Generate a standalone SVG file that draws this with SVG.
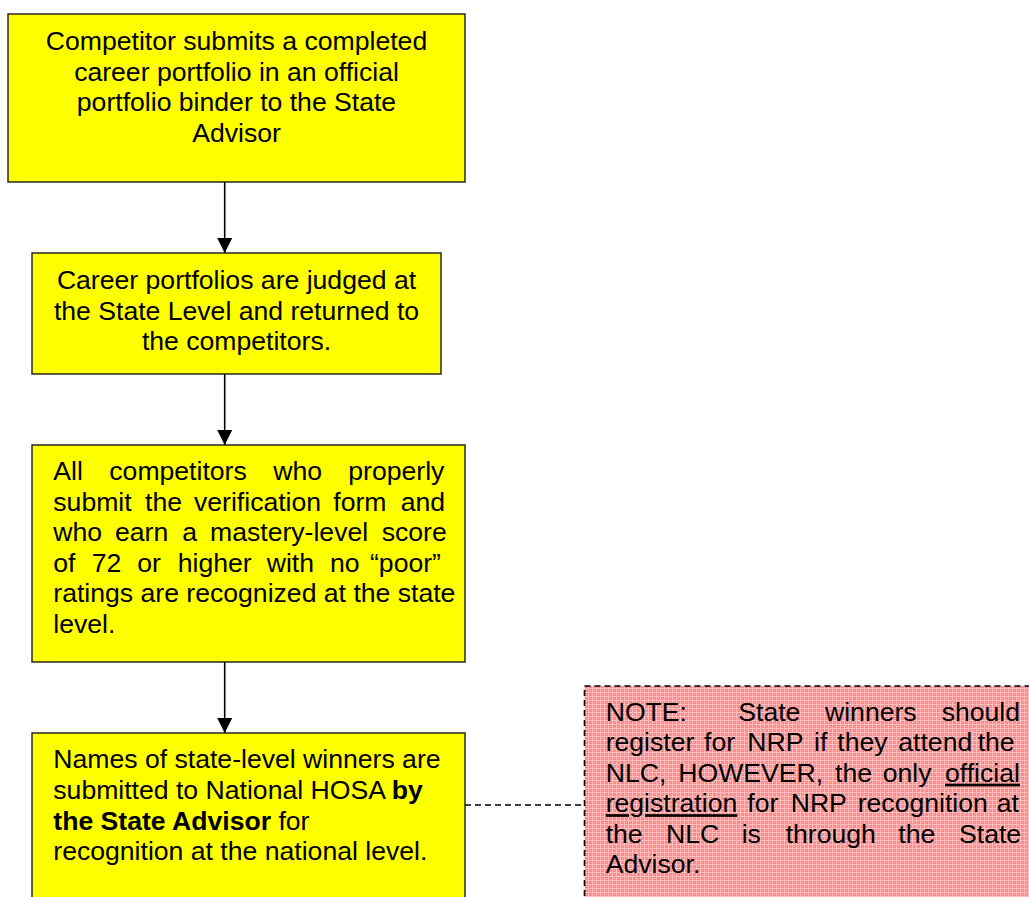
<svg xmlns="http://www.w3.org/2000/svg" width="1029" height="897" viewBox="0 0 1029 897">
<style>
.box{fill:#FFFF00;stroke:#1a1a1a;stroke-width:1.4}
.t{font-family:"Liberation Sans",Arial,sans-serif;font-size:26.6px;fill:#000}
.c{text-anchor:middle}
.b{font-weight:bold}
.conn{stroke:#000;stroke-width:1.6;fill:none}
.dash{stroke:#000;stroke-width:1.6;fill:none;stroke-dasharray:6 4}
</style>
<defs>
<marker id="arr" markerUnits="userSpaceOnUse" markerWidth="16" markerHeight="15" refX="15" refY="7.5" orient="auto">
<path d="M0,0 L15,7.5 L0,15 Z" fill="#000"/>
</marker>
<pattern id="pink" width="4" height="4" patternUnits="userSpaceOnUse">
<rect width="4" height="4" fill="#ff8686"/>
<rect x="0" y="0" width="4" height="1" fill="#ffbcbc"/>
<rect x="0" y="0" width="1" height="4" fill="#ffbcbc"/>
<rect x="2" y="2" width="1" height="1" fill="#ffa8a8"/>
</pattern>
</defs>
<g id="connectors">
<line class="conn" x1="224.7" y1="182" x2="224.7" y2="253" marker-end="url(#arr)"/>
<line class="conn" x1="224.7" y1="374" x2="224.7" y2="445" marker-end="url(#arr)"/>
<line class="conn" x1="224.7" y1="662" x2="224.7" y2="733" marker-end="url(#arr)"/>
<line class="dash" x1="465" y1="805" x2="584" y2="805"/>
</g>
<g id="node1">
<rect class="box" x="8" y="14" width="457" height="168"/>
<text class="t c" x="236.5" y="50">Competitor submits a completed</text>
<text class="t c" x="236.5" y="80.5">career portfolio in an official</text>
<text class="t c" x="236.5" y="111">portfolio binder to the State</text>
<text class="t c" x="236.5" y="141.5">Advisor</text>
</g>
<g id="node2">
<rect class="box" x="32" y="253" width="409" height="121"/>
<text class="t c" x="236.5" y="289">Career portfolios are judged at</text>
<text class="t c" x="236.5" y="319.5">the State Level and returned to</text>
<text class="t c" x="236.5" y="350">the competitors.</text>
</g>
<g id="node3">
<rect class="box" x="32" y="445" width="433" height="217"/>
<text class="t" y="480"><tspan x="53.3">All</tspan><tspan x="109.3">competitors</tspan><tspan x="273.3">who</tspan><tspan x="348.3">properly</tspan></text>
<text class="t" y="510.6"><tspan x="53.3">submit</tspan><tspan x="145">the</tspan><tspan x="194">verification</tspan><tspan x="333.3">form</tspan><tspan x="400.7">and</tspan></text>
<text class="t" y="541.2"><tspan x="53.3">who</tspan><tspan x="115">earn</tspan><tspan x="182.3">a</tspan><tspan x="210">mastery-level</tspan><tspan x="381.7">score</tspan></text>
<text class="t" y="571.8"><tspan x="53.3">of</tspan><tspan x="91.7">72</tspan><tspan x="137.3">or</tspan><tspan x="177.7">higher</tspan><tspan x="266.7">with</tspan><tspan x="330">no</tspan><tspan x="370">“poor”</tspan></text>
<text class="t" x="53.3" y="602.4">ratings are recognized at the state</text>
<text class="t" x="53.3" y="633">level.</text>
</g>
<g id="node4">
<rect class="box" x="32" y="733" width="433" height="200"/>
<text class="t" x="53.3" y="768">Names of state-level winners are</text>
<text class="t" x="53.3" y="799">submitted to National HOSA <tspan class="b">by</tspan></text>
<text class="t" x="53.3" y="829.5"><tspan class="b">the State Advisor</tspan> for</text>
<text class="t" x="53.3" y="860">recognition at the national level.</text>
</g>
<g id="note">
<rect x="584.5" y="686" width="470" height="240" fill="url(#pink)" stroke="#000" stroke-width="1.6" stroke-dasharray="6 4"/>
<text class="t" y="720.7"><tspan x="605.7">NOTE:</tspan><tspan x="738.3">State</tspan><tspan x="825">winners</tspan><tspan x="941.7">should</tspan></text>
<text class="t" y="751.2"><tspan x="605.7">register</tspan><tspan x="704">for</tspan><tspan x="747.3">NRP</tspan><tspan x="814">if</tspan><tspan x="837.3">they</tspan><tspan x="898.3">attend</tspan><tspan x="977.7">the</tspan></text>
<text class="t" y="781.7"><tspan x="605.7">NLC,</tspan><tspan x="678.3">HOWEVER,</tspan><tspan x="835">the</tspan><tspan x="882.7">only</tspan><tspan x="945" text-decoration="underline">official</tspan></text>
<text class="t" y="812.2"><tspan x="605.7" text-decoration="underline">registration</tspan><tspan x="747.3">for</tspan><tspan x="790.7">NRP</tspan><tspan x="857.7">recognition</tspan><tspan x="996.7">at</tspan></text>
<text class="t" y="842.7"><tspan x="605.7">the</tspan><tspan x="666">NLC</tspan><tspan x="741.7">is</tspan><tspan x="785.7">through</tspan><tspan x="898.3">the</tspan><tspan x="959">State</tspan></text>
<text class="t" x="605.7" y="873.2">Advisor.</text>
</g>
</svg>
